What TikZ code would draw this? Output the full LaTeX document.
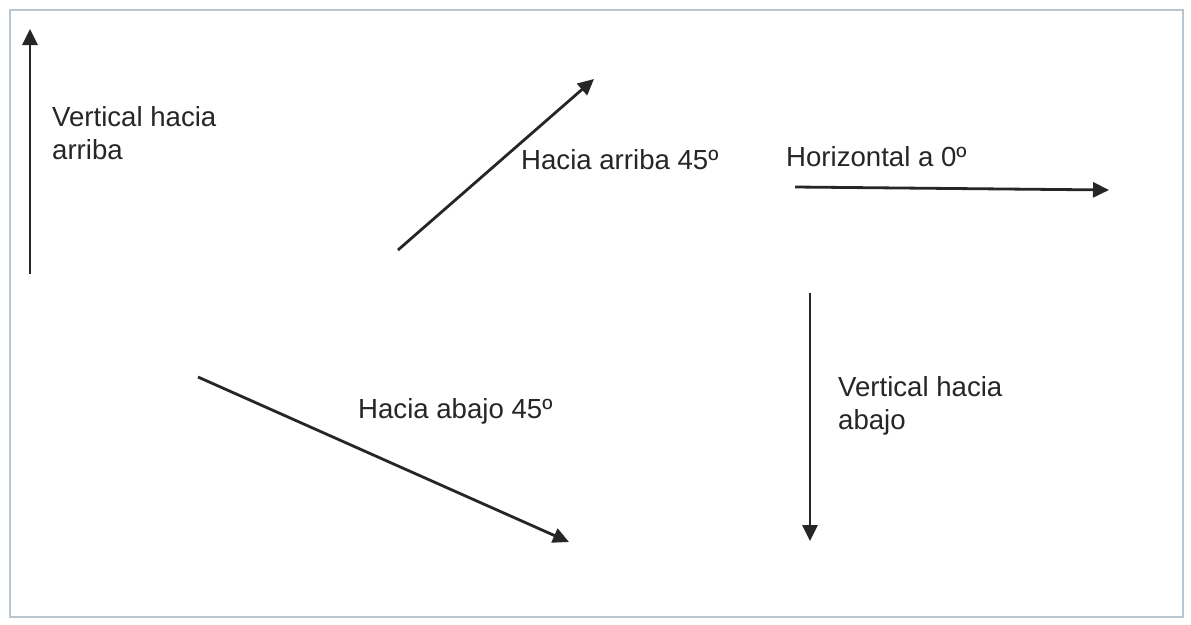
\documentclass[tikz,border=0pt]{standalone}
\usepackage{fontspec}
\setmainfont{Liberation Sans}
\usetikzlibrary{arrows.meta}
\definecolor{framec}{HTML}{B9C5CF}
\definecolor{ink}{HTML}{262626}
\begin{document}
\begin{tikzpicture}[x=1pt,y=-1pt,
  vec/.style={draw=ink,line width=2.8pt,-{Triangle[length=16pt,width=15pt]}},
  lbl/.style={anchor=west,inner sep=0pt,text=ink,align=left,
    font=\fontsize{27.6}{33}\selectfont}]
\useasboundingbox (0,0) rectangle (1191,624);
\fill[white] (0,0) rectangle (1191,624);
\draw[framec,line width=2pt] (10,10) rectangle (1183,617);
% arrow end points
\coordinate (upA) at (30,274);
\coordinate (upB) at (30,29);
\coordinate (d45A) at (398,250);
\coordinate (d45B) at (594,79);
\coordinate (hA) at (795,187);
\coordinate (hB) at (1109,190);
\coordinate (dnA) at (810,293);
\coordinate (dnB) at (810,541);
\coordinate (dbA) at (198,377);
\coordinate (dbB) at (569,542);
\draw[vec] (upA) -- (upB);
\draw[vec] (d45A) -- (d45B);
\draw[vec] (hA) -- (hB);
\draw[vec] (dnA) -- (dnB);
\draw[vec] (dbA) -- (dbB);
% labels
\node[lbl] (tup) at (52,133) {Vertical hacia\\arriba};
\node[lbl] (t45) at (521,160) {Hacia arriba 45º};
\node[lbl] (th) at (786,157) {Horizontal a 0º};
\node[lbl] (tdn) at (838,406) {Vertical hacia\\abajo};
\node[lbl] (tdb) at (358,411) {Hacia abajo 45º};
\end{tikzpicture}
\end{document}
